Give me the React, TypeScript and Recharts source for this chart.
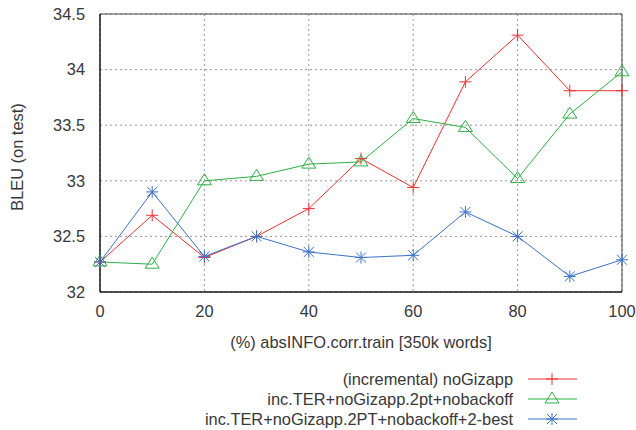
import React from 'react';
import { LineChart, Line, XAxis, YAxis, CartesianGrid, ReferenceArea, Label } from 'recharts';

const xValues = [0, 10, 20, 30, 40, 50, 60, 70, 80, 90, 100];
const incremental = [32.27, 32.69, 32.31, 32.5, 32.75, 33.2, 32.94, 33.89, 34.31, 33.81, 33.81];
const twoPt = [32.27, 32.25, 33.0, 33.04, 33.15, 33.17, 33.56, 33.48, 33.02, 33.6, 33.98];
const twoBest = [32.27, 32.9, 32.32, 32.5, 32.36, 32.31, 32.33, 32.72, 32.5, 32.14, 32.29];
const seriesNames = [
  '(incremental) noGizapp',
  'inc.TER+noGizapp.2pt+nobackoff',
  'inc.TER+noGizapp.2PT+nobackoff+2-best',
];
const xTicks = [0, 20, 40, 60, 80, 100];
const yTicks = [32, 32.5, 33, 33.5, 34, 34.5];

const data = xValues.map((x, i) => ({ x, a: incremental[i], b: twoPt[i], c: twoBest[i] }));

const RED = '#f03030';
const GREEN = '#2cb044';
const BLUE = '#3c72c8';
const FONT = '"Liberation Sans", Arial, sans-serif';
const FS = 16.4;
const TXT = '#383838';

const Plus = ({ cx, cy, color }: any) => (
  <g stroke={color} strokeWidth={1} fill="none">
    <line x1={cx - 6} y1={cy} x2={cx + 6} y2={cy} />
    <line x1={cx} y1={cy - 6} x2={cx} y2={cy + 6} />
  </g>
);
const Tri = ({ cx, cy, color }: any) => (
  <path d={`M${cx - 7},${cy + 4} L${cx + 7},${cy + 4} L${cx},${cy - 7} Z`} stroke={color} strokeWidth={1} fill="none" />
);
const Star = ({ cx, cy, color }: any) => (
  <g stroke={color} strokeWidth={1} fill="none">
    <line x1={cx - 6} y1={cy} x2={cx + 6} y2={cy} />
    <line x1={cx} y1={cy - 6} x2={cx} y2={cy + 6} />
    <line x1={cx - 5} y1={cy - 5} x2={cx + 5} y2={cy + 5} />
    <line x1={cx - 5} y1={cy + 5} x2={cx + 5} y2={cy - 5} />
  </g>
);

const markers = [Plus, Tri, Star];
const colors = [RED, GREEN, BLUE];

export default function App() {
  return (
    <div style={{ position: 'absolute', left: 0, top: 0, width: 636, height: 430, background: '#fff', fontFamily: FONT }}>
      <LineChart width={636} height={430} data={data} margin={{ top: 14, right: 14, left: 0, bottom: 78 }}>
        <CartesianGrid stroke="#999" strokeDasharray="2 3" />
        <ReferenceArea x1={0} x2={100} y1={32} y2={34.5} fill="none" stroke="#444" strokeWidth={1} ifOverflow="visible" />
        <XAxis
          dataKey="x"
          type="number"
          domain={[0, 100]}
          ticks={xTicks}
          tickSize={0}
          tickMargin={13}
          height={60}
          axisLine={{ stroke: '#000' }}
          tick={{ fill: TXT, fontSize: FS, fontFamily: FONT }}
        >
          <Label
            content={({ viewBox }: any) => (
              <text x={viewBox.x + viewBox.width / 2} y={348} textAnchor="middle" fill={TXT} fontSize={FS} fontFamily={FONT}>
                (%) absINFO.corr.train [350k words]
              </text>
            )}
          />
        </XAxis>
        <YAxis
          type="number"
          domain={[32, 34.5]}
          ticks={yTicks}
          tickSize={0}
          tickMargin={15}
          width={100}
          axisLine={{ stroke: '#000' }}
          tick={{ fill: TXT, fontSize: FS, fontFamily: FONT }}
          tickFormatter={(v: number) => String(v)}
        >
          <Label
            content={() => {
              const cy = 157;
              const cx = 16.5;
              return (
                <text x={cx} y={cy} transform={`rotate(-90 ${cx} ${cy})`} textAnchor="middle" dominantBaseline="central" fill={TXT} fontSize={FS} fontFamily={FONT}>
                  BLEU (on test)
                </text>
              );
            }}
          />
        </YAxis>
        {(['a', 'b', 'c'] as const).map((k, i) => {
          const M = markers[i];
          return (
            <Line
              key={k}
              dataKey={k}
              name={seriesNames[i]}
              stroke={colors[i]}
              strokeWidth={1}
              isAnimationActive={false}
              dot={(p: any) => <M key={`${k}-${p.index}`} cx={p.cx} cy={p.cy} color={colors[i]} />}
              activeDot={false}
            />
          );
        })}
      </LineChart>
      <svg width={636} height={65} style={{ position: 'absolute', left: 0, top: 365, overflow: 'visible' }}>
        {seriesNames.map((n, i) => {
          const M = markers[i];
          const y = 14 + i * 20;
          return (
            <g key={n}>
              <text x={513} y={y} textAnchor="end" dominantBaseline="central" fill={TXT} fontSize={FS} fontFamily={FONT}>
                {n}
              </text>
              <line x1={528} y1={y} x2={577} y2={y} stroke={colors[i]} strokeWidth={1} />
              <M cx={552} cy={y} color={colors[i]} />
            </g>
          );
        })}
      </svg>
    </div>
  );
}
